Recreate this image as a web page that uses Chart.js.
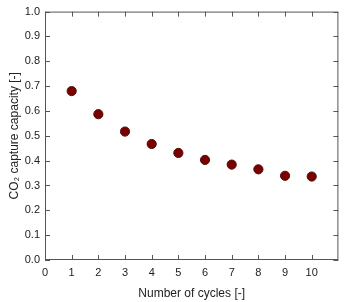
<!DOCTYPE html>
<html>
<head>
<meta charset="utf-8">
<script src="https://cdn.jsdelivr.net/npm/chart.js@4"></script>
<style>
  body { margin: 0; background: #fff; }
  canvas { display: block; }
</style>
</head>
<body>
<canvas id="myChart" width="344" height="302"></canvas>
<script>
// Data
const cycles = [1, 2, 3, 4, 5, 6, 7, 8, 9, 10];
const capacity = [0.68, 0.587, 0.517, 0.467, 0.431, 0.403, 0.384, 0.365, 0.339, 0.336];
const xTickLabels = ["0", "1", "2", "3", "4", "5", "6", "7", "8", "9", "10"];
const yTickLabels = ["0.0", "0.1", "0.2", "0.3", "0.4", "0.5", "0.6", "0.7", "0.8", "0.9", "1.0"];

const axisColor = "#555";
const textColor = "#222";
const ctx = document.getElementById("myChart").getContext("2d");

// --------------------------- Frame + inward ticks ---------------------------
const framePlugin = {
	id: "frame",
	afterDraw(chart) {
		const { ctx, chartArea: a, scales } = chart;
		const len = 5;
		ctx.save();
		ctx.strokeStyle = axisColor;
		ctx.lineWidth = 1;
		ctx.strokeRect(a.left + 0.5, a.top + 0.5, a.right - a.left - 1, a.bottom - a.top - 1);
		ctx.beginPath();
		xTickLabels.forEach((t) => {
			const x = Math.round(scales.x.getPixelForValue(parseFloat(t))) + 0.5;
			ctx.moveTo(x, a.bottom);
			ctx.lineTo(x, a.bottom - len);
			ctx.moveTo(x, a.top);
			ctx.lineTo(x, a.top + len);
		});
		yTickLabels.forEach((t) => {
			const y = Math.round(scales.y.getPixelForValue(parseFloat(t))) + 0.5;
			ctx.moveTo(a.left, y);
			ctx.lineTo(a.left + len, y);
			ctx.moveTo(a.right, y);
			ctx.lineTo(a.right - len, y);
		});
		ctx.stroke();
		ctx.restore();
	},
};

// --------------------------- Chart Object ---------------------------
const co2Chart = new Chart(ctx, {
	type: "scatter",
	data: {
		datasets: [
			{
				label: "CO2 capture capacity",
				data: cycles.map((c, i) => ({ x: c, y: capacity[i] })),
				backgroundColor: "#7a0000",
				borderColor: "#4e1208",
				borderWidth: 1,
				pointRadius: 4.6,
				pointHoverRadius: 4.6,
			},
		],
	},
	options: {
		responsive: false,
		animation: false,
		layout: { padding: { top: 10, right: 5, left: 0, bottom: 0 } },
		scales: {
			x: {
				type: "linear",
				min: 0,
				max: 11,
				grid: { display: false, drawTicks: false },
				border: { display: false },
				afterBuildTicks: (scale) => {
					scale.ticks = xTickLabels.map((t) => ({ value: parseFloat(t) }));
				},
				afterFit: (scale) => {
					scale.height = 42;
				},
				ticks: {
					padding: 6,
					color: textColor,
					font: { family: "Liberation Sans", size: 11 },
					callback: (v) => xTickLabels[v] ?? "",
				},
				title: {
					display: true,
					text: "Number of cycles [-]",
					color: textColor,
					font: { family: "Liberation Sans", size: 12 },
					padding: { top: 0, bottom: 1 },
				},
			},
			y: {
				type: "linear",
				min: 0,
				max: 1,
				grid: { display: false, drawTicks: false },
				border: { display: false },
				afterBuildTicks: (scale) => {
					scale.ticks = yTickLabels.map((t) => ({ value: parseFloat(t) }));
				},
				afterFit: (scale) => {
					scale.width = 45;
				},
				ticks: {
					padding: 5,
					color: textColor,
					font: { family: "Liberation Sans", size: 11 },
					callback: (v) => yTickLabels[Math.round(v * 10)] ?? "",
				},
				title: {
					display: true,
					text: "CO\u2082 capture capacity [-]",
					color: textColor,
					font: { family: "Liberation Sans", size: 12 },
					padding: { top: 7, bottom: 0 },
				},
			},
		},
		plugins: {
			legend: { display: false },
			tooltip: { enabled: false },
		},
	},
	plugins: [framePlugin],
});
</script>
</body>
</html>
